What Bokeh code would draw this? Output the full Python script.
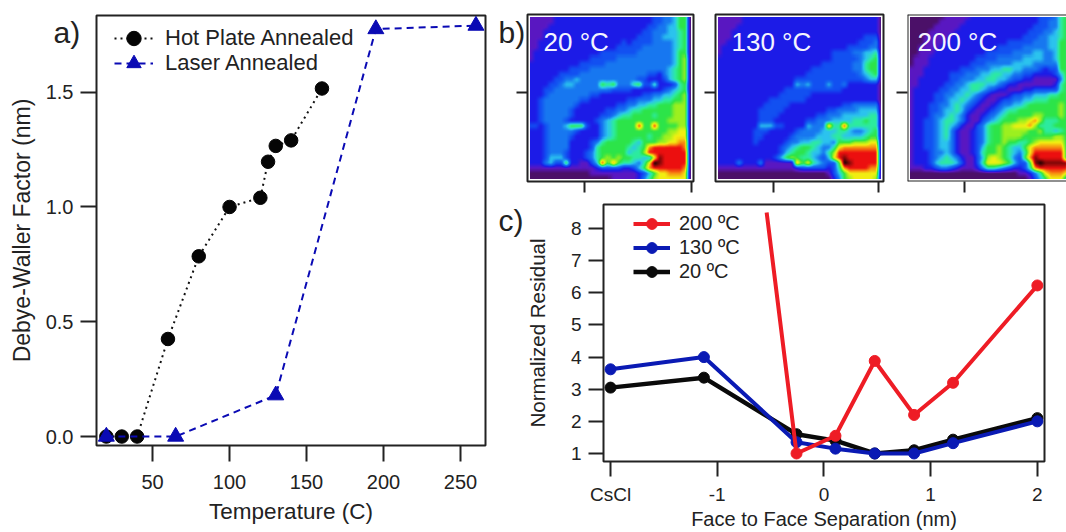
import numpy as np
from bokeh.embed import file_html
from bokeh.resources import INLINE
from bokeh.layouts import row, column
from bokeh.plotting import figure
from bokeh.models import (Range1d, FixedTicker, Legend, LegendItem, Label, Span,
                          LinearColorMapper, PrintfTickFormatter)

# ---------- panel a data ----------
hot_t = [20, 30, 40, 60, 80, 100, 120, 125, 130, 140, 160]
hot_v = [0, 0, 0, 0.425, 0.785, 1.0, 1.04, 1.197, 1.266, 1.29, 1.516]
laser_t = [20, 65, 130, 195, 260]
laser_v = [0, 0, 0.18, 1.775, 1.79]
a_xticks = [50, 100, 150, 200, 250]
a_yticks = [0, 0.5, 1.0, 1.5]

# ---------- panel c data ----------
sep = [-2, -1.125, -0.257, 0.108, 0.476, 0.845, 1.21, 2]
res_20 = [3.05, 3.36, 1.6, 1.4, 1.0, 1.1, 1.43, 2.1]
res_130 = [3.62, 4.0, 1.35, 1.15, 1.0, 1.0, 1.32, 2.0]
sep_200 = [-0.537, -0.257, 0.108, 0.476, 0.845, 1.21, 2]
res_200 = [8.5, 1.0, 1.55, 3.88, 2.2, 3.2, 6.23]
c_xticks = [-2, -1, 0, 1, 2]
c_xlabels = {-2: "CsCl", -1: "-1", 0: "0", 1: "1", 2: "2"}
c_yticks = [1, 2, 3, 4, 5, 6, 7, 8]

# ---------- panel b scattering intensity, read as levels 0..d ----------
map_20 = [
"11111222222222222222222233445770",
"11111222222222222222222233445770",
"11112222222222222222222334455770",
"11122222222222222222223344455670",
"11122222222222222222233344555670",
"11222222222222222232333344445670",
"11222222222222222333334444445670",
"12222222222222333333344444445770",
"12222222222233333444444444445780",
"22222222223333344444444444445780",
"22222222333344444444444444456780",
"22222233334444444444444332456780",
"22222334454444444444433222356780",
"22223345544444767444673362223670",
"22233444444444443333222222345670",
"22234444444433222222223344556780",
"22344444443322222223344455667780",
"22344444432222222334455667778880",
"22344444322222233445667777778880",
"22344444322222334566777767778880",
"22344443222223456777777777788880",
"332344457773224567777b77b7777880",
"22234444432222456777777777788990",
"22234444322222456777777677889990",
"22234444222234677777657778899aa0",
"22234444222236777776567abbbbbba0",
"22234443222346777775668bbbbbbbb0",
"2223555322234678787766559cbbbbb0",
"22245337221135b7a7665469dcbbbbb0",
"11111111111112333322357abbbbbba0",
"000000000000111111111235799aaa90",
"00000000000000001111124689999990",
]
map_130 = [
"11111222222222222222222222222220",
"11111222222222222222222222222220",
"11112222222222222222222222222220",
"11122222222222222222222222222220",
"11122222222222222222222222223330",
"11222222222222222222222222233340",
"12222222222222222222222223333440",
"12222222222222222222223333445560",
"22222222222222222222223333345670",
"22222222222222222222333333446770",
"22222222222222222233333333446770",
"22222222222222222333333333345670",
"22222222222222233333333333334550",
"22222222222222254533353342222220",
"22222222222223333333333322222220",
"22222222222233333322222222222220",
"22222222223333333222222222222220",
"22222222233333222222222233444440",
"22222222333332222222233444455550",
"22222222333322222223344455555660",
"22222222333222222334445555667660",
"222222225553322225444a66b6666660",
"22222223332222234444555665445670",
"22222223322222344445556655556770",
"22222223222223445566554777888990",
"222222222222345677654469aaaaaaa0",
"22222222222235677655468bbbbbbbb0",
"22222222222357876654359bcbbbbb0",
"222242224111111a79654337dcbbbbb0",
"111111111111111233333236abbbbaa0",
"00000000000000000000013579999990",
"00000000000000000000002478999980",
]
map_200 = [
"00000001111122222222222223334670",
"00000011111222222222222223344670",
"00000111112222222222222233344670",
"00001111122222222222222333445670",
"00011111222222222222223334455670",
"00011112222222222223333344455770",
"00111122222222222333334444455770",
"00111222222222233333444455445770",
"01112222222223333444445555445770",
"01112222222233344444555544444770",
"11122222223334445566554443233770",
"11122222333444556655443322223570",
"11222222334445566554332211111470",
"11222223344566655432211111112670",
"12222233445566543221112233333670",
"12222334455654321112334455566770",
"12222334556543211233445566677770",
"12223344565432112344556777777870",
"12223345565321123456677777777870",
"12223445654211234567777788777870",
"122334566542113456777889a8666770",
"12233456542113467788999a86667770",
"12233456421123467788888778665670",
"12233456421123467788887777778870",
"12233455421123467787766789999970",
"122334554211235778765579aaaaaa70",
"122234454211236778765469bbbbbb70",
"12223456542113589876437acbbbbb70",
"122235666531136999875337cdccccc70",
"111223443211124665432236abbbbbb70",
"000000000000000000000112469aaa970",
"00000000000000000000000135799960",
]
map_labels = ["20 °C", "130 °C", "200 °C"]

level_colors = ["#4b1068", "#5a18c4", "#1c1ce8", "#1250f2", "#1878f0", "#2cc4ee", "#2ceca0",
                "#2ce448", "#9cf020", "#f2f012", "#f89010", "#ee1010", "#7c0808", "#100000"]

INK = "#222222"
FONT = "Liberation Sans"


def to_palette(colors, n=256):
    rgb = np.array([[int(c[i:i + 2], 16) for i in (1, 3, 5)] for c in colors], float)
    t = np.linspace(0, len(colors) - 1, n)
    out = [np.interp(t, np.arange(len(colors)), rgb[:, k]) for k in range(3)]
    return ["#%02x%02x%02x" % (int(r), int(g), int(b)) for r, g, b in zip(*out)]


def soften(line, kernel=np.array([1, 2, 1]) / 4):
    return np.convolve(np.pad(line, 1, mode="edge"), kernel, mode="valid")


def parse(rows, n=32, up=5):
    g = np.array([[int(ch, 16) for ch in (r[:-1] + r[-2] * n)[:n - 1] + r[-1]] for r in rows], float)
    g = g[::-1]
    fine = np.linspace(0, n - 1, n * up)
    base = np.arange(n)
    g = np.array([soften(np.interp(fine, base, line)) for line in g])
    g = np.array([soften(np.interp(fine, base, line)) for line in g.T]).T
    return g


def style_axis(ax, size, tick):
    ax.major_label_text_font = FONT
    ax.major_label_text_font_size = size
    ax.major_label_text_color = INK
    ax.axis_label_text_font = FONT
    ax.axis_label_text_font_style = "normal"
    ax.axis_label_text_color = INK
    ax.axis_line_color = None
    ax.major_tick_line_color = INK
    ax.major_tick_line_width = 2
    ax.major_tick_in = 0
    ax.major_tick_out = tick
    ax.minor_tick_line_color = None


def tag(p, text, x, y):
    p.add_layout(Label(x=x, y=y, x_units="canvas", y_units="canvas", text=text, text_font=FONT,
                       text_font_size="30px", text_color=INK, text_baseline="alphabetic"), "left")


def add_legend(p, label, renderers, x, y, glyph_w, glyph_h, standoff, size):
    p.add_layout(Legend(items=[LegendItem(label=label, renderers=renderers)], location=(x, y),
                        margin=0, padding=0, spacing=0, glyph_width=glyph_w, glyph_height=glyph_h,
                        label_height=20, label_standoff=standoff, label_text_font=FONT,
                        label_text_font_size=size, label_text_color=INK,
                        background_fill_alpha=0, border_line_color=None))


# ---------- panel a ----------
a = figure(width=511, height=532, output_backend="svg", toolbar_location=None, margin=(0, 0, 0, -22),
           x_range=Range1d(13.6, 266.2), y_range=Range1d(-0.039, 1.834),
           min_border_left=118, min_border_right=4, min_border_top=15, min_border_bottom=87,
           x_axis_label="Temperature (C)", y_axis_label="Debye-Waller Factor (nm)")
a.grid.visible = False
a.outline_line_color = INK
a.outline_line_width = 2
a.xaxis.ticker = FixedTicker(ticks=a_xticks)
a.yaxis.ticker = FixedTicker(ticks=a_yticks)
a.yaxis.formatter = PrintfTickFormatter(format="%.1f")
for ax in (a.xaxis[0], a.yaxis[0]):
    style_axis(ax, "20px", 16)
a.xaxis.axis_label_text_font_size = "22.5px"
a.yaxis.axis_label_text_font_size = "23px"
a.xaxis.major_label_standoff = 13
a.xaxis.axis_label_standoff = 7
a.yaxis.major_label_standoff = 7
a.yaxis.axis_label_standoff = 8
BLUE_A = "#0a0ab4"
hl = a.line(hot_t, hot_v, line_color="#111111", line_width=2, line_dash="2 4")
hm = a.scatter(hot_t, hot_v, marker="circle", size=13.5, fill_color="#050505", line_color="#050505")
ll = a.line(laser_t, laser_v, line_color=BLUE_A, line_width=2, line_dash="7 5")
lm = a.scatter(laser_t, laser_v, marker="triangle", size=16, fill_color=BLUE_A, line_color=BLUE_A)
add_legend(a, "Hot Plate Annealed", [hl, hm], 18, 389, 39, 36, 12, "22px")
add_legend(a, "Laser Annealed", [ll, lm], 18, 364, 39, 36, 12, "22px")
tag(a, "a)", 75, 32)

# ---------- panel b ----------
palette = to_palette(level_colors)
mapper = LinearColorMapper(palette=palette, low=0, high=13)


def panel(rows, label, width, left, right, xticks, xend, xtext, framed=True):
    p = figure(width=width, height=195, output_backend="svg", toolbar_location=None,
               x_range=Range1d(0, xend), y_range=Range1d(0, 1),
               min_border_left=left, min_border_right=right, min_border_top=14, min_border_bottom=14)
    p.grid.visible = False
    p.image(image=[parse(rows)], x=0.015, y=0.015, dw=0.97, dh=0.97, color_mapper=mapper)
    for ax in (p.xaxis[0], p.yaxis[0]):
        style_axis(ax, "1px", 11)
        ax.major_label_text_color = None
        ax.major_label_standoff = 0
    p.xaxis.ticker = FixedTicker(ticks=xticks)
    p.yaxis.ticker = FixedTicker(ticks=[0.533])
    if framed:
        p.outline_line_color = INK
        p.outline_line_width = 2
    else:
        p.outline_line_color = None
        for dim, loc in (("width", 1), ("width", 0), ("height", 0)):
            p.add_layout(Span(location=loc, dimension=dim, line_color=INK, line_width=2))
    p.add_layout(Label(x=xtext, y=140, x_units="screen", y_units="screen", text=label, text_font=FONT,
                       text_font_size="26px", text_color="#f4f4ff", text_baseline="alphabetic"))
    return p


b1 = panel(map_20, map_labels[0], 215, 38, 11, [0.343, 0.988], 1, 16)
b2 = panel(map_130, map_labels[1], 192, 10, 13, [0.343, 0.97], 1, 16)
b3 = panel(map_200, map_labels[2], 170, 10, 0, [0.341], 160 / 167, 10, framed=False)
tag(b1, "b)", 9, 32)

# ---------- panel c ----------
c = figure(width=577, height=337, output_backend="svg", toolbar_location=None,
           x_range=Range1d(-2.066, 2.067), y_range=Range1d(0.75, 8.75),
           min_border_left=114, min_border_right=22, min_border_top=9, min_border_bottom=71,
           x_axis_label="Face to Face Separation (nm)", y_axis_label="Normalized Residual")
c.grid.visible = False
c.outline_line_color = INK
c.outline_line_width = 2
c.xaxis.ticker = FixedTicker(ticks=c_xticks)
c.xaxis.major_label_overrides = c_xlabels
c.yaxis.ticker = FixedTicker(ticks=c_yticks)
for ax in (c.xaxis[0], c.yaxis[0]):
    style_axis(ax, "19px", 15)
c.xaxis.axis_label_text_font_size = "20px"
c.yaxis.axis_label_text_font_size = "20.5px"
c.xaxis.major_label_standoff = 7
c.xaxis.axis_label_standoff = 0
c.yaxis.major_label_standoff = 7
c.yaxis.axis_label_standoff = 19
RED, BLUE, BLACK = "#ee1c25", "#0a1ab4", "#0a0a0a"
k_l = c.line(sep, res_20, line_color=BLACK, line_width=4.5)
k_m = c.scatter(sep, res_20, marker="circle", size=11, fill_color=BLACK, line_color=BLACK)
b_l = c.line(sep, res_130, line_color=BLUE, line_width=4)
b_m = c.scatter(sep, res_130, marker="circle", size=11, fill_color=BLUE, line_color=BLUE)
r_l = c.line(sep_200, res_200, line_color=RED, line_width=4)
r_m = c.scatter(sep_200[1:], res_200[1:], marker="circle", size=11, fill_color=RED, line_color=RED)
add_legend(c, "200 ºC", [r_l, r_m], 30, 224, 37, 27, 9, "20px")
add_legend(c, "130 ºC", [b_l, b_m], 30, 200, 37, 27, 9, "20px")
add_legend(c, "20 ºC", [k_l, k_m], 30, 176, 37, 27, 9, "20px")
tag(c, "c)", 9, 25)

page = row(a, column(row(b1, b2, b3), c))
open("out.html", "w").write(file_html(page, INLINE))
